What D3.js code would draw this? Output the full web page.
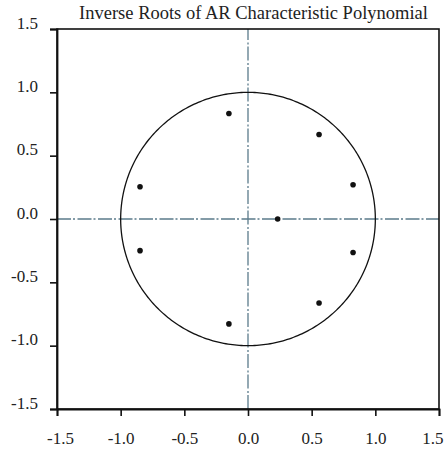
<!DOCTYPE html>
<html><head><meta charset="utf-8">
<script src="https://cdn.jsdelivr.net/npm/d3@7"></script>
<style>body{margin:0;background:#fff}svg{display:block}</style>
</head><body>
<script>
const title = "Inverse Roots of AR Characteristic Polynomial";
const tickValues = [-1.5, -1.0, -0.5, 0.0, 0.5, 1.0, 1.5];
const rootRe = [-0.15, -0.15, 0.558, 0.558, 0.825, 0.825, -0.848, -0.848, 0.233];
const rootIm = [0.833, -0.828, 0.667, -0.663, 0.27, -0.264, 0.255, -0.25, 0.0];

const W = 448, H = 451;
const m = {left: 57, right: 439, top: 29, bottom: 409};
const svg = d3.select("body").append("svg").attr("width", W).attr("height", H);
const x = d3.scaleLinear().domain([-1.5, 1.5]).range([m.left, m.right]);
const y = d3.scaleLinear().domain([-1.5, 1.5]).range([m.bottom, m.top]);
const font = "'Liberation Serif','Times New Roman',serif";

// zero lines
const zc = "#5b7b8b";
svg.append("line").attr("x1", x(-1.5)).attr("x2", x(1.5)).attr("y1", y(0)).attr("y2", y(0))
  .attr("stroke", zc).attr("stroke-width", 1.3).attr("stroke-dasharray", "14,2,2,2.5");
svg.append("line").attr("x1", x(0)).attr("x2", x(0)).attr("y1", y(-1.5)).attr("y2", y(1.5))
  .attr("stroke", zc).attr("stroke-width", 1.3).attr("stroke-dasharray", "14,2,2,2.5");

// unit circle
const ang = d3.range(0, 361, 1).map(d => d * Math.PI / 180);
svg.append("path").datum(ang)
  .attr("d", d3.line().x(a => x(Math.cos(a))).y(a => y(Math.sin(a))))
  .attr("fill", "none").attr("stroke", "#111").attr("stroke-width", 1.3);

// roots
svg.selectAll("circle.r").data(rootRe).join("circle").attr("class", "r")
  .attr("cx", d => x(d)).attr("cy", (d, i) => y(rootIm[i])).attr("r", 2.8).attr("fill", "#111");

// frame
svg.append("rect").attr("x", m.left).attr("y", m.top).attr("width", m.right - m.left).attr("height", m.bottom - m.top)
  .attr("fill", "none").attr("stroke", "#111").attr("stroke-width", 1.6);

// axes
const fmt = d => d3.format(".1f")(d).replace("\u2212", "-");
const gx = svg.append("g").attr("transform", `translate(0,${m.bottom})`)
  .call(d3.axisBottom(x).tickValues(tickValues).tickFormat(fmt).tickSize(7).tickPadding(16));
const gy = svg.append("g").attr("transform", `translate(${m.left},0)`)
  .call(d3.axisLeft(y).tickValues(tickValues).tickFormat(fmt).tickSize(7).tickPadding(12));
[gx, gy].forEach(g => {
  g.select(".domain").attr("stroke", "#111").attr("stroke-width", 1.8);
  g.selectAll(".tick line").attr("stroke", "#111").attr("stroke-width", 1.6);
  g.selectAll("text").attr("font-family", font).attr("font-size", 17).attr("fill", "#222");
});
gx.selectAll("text").attr("dy", "0.71em");
gx.selectAll(".tick").filter(d => d === 1.5).select("text").attr("text-anchor", "end").attr("x", 4);
gx.selectAll(".tick").filter(d => d === -1.5).select("text").attr("x", 3);
gy.selectAll("text").attr("dy", "-0.05em");

svg.append("text").attr("x", 253.5).attr("y", 19).attr("text-anchor", "middle")
  .attr("font-family", font).attr("font-size", 18.5).attr("fill", "#222").text(title);
</script>
</body></html>
